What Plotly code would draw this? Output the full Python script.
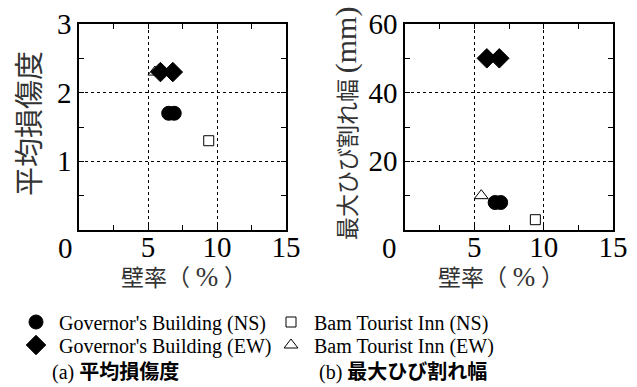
import plotly.graph_objects as go

# ---- data ----
series_names = ["Governor's Building (NS)", "Bam Tourist Inn (NS)",
                "Governor's Building (EW)", "Bam Tourist Inn (EW)"]
wall_ratio = {
    "Governor's Building (NS)": [6.5, 6.9],
    "Bam Tourist Inn (NS)": [9.4],
    "Governor's Building (EW)": [5.9, 6.8],
    "Bam Tourist Inn (EW)": [5.5],
}
avg_damage = {
    "Governor's Building (NS)": [1.7, 1.7],
    "Bam Tourist Inn (NS)": [1.3],
    "Governor's Building (EW)": [2.3, 2.3],
    "Bam Tourist Inn (EW)": [2.3],
}
max_crack = {
    "Governor's Building (NS)": [8, 8],
    "Bam Tourist Inn (NS)": [3],
    "Governor's Building (EW)": [50, 50],
    "Bam Tourist Inn (EW)": [10],
}
x_ticks = [5, 10, 15]
y1_ticks = [1, 2, 3]
y2_ticks = [20, 40, 60]
legend_rows = {"legend": ["Governor's Building (NS)", "Bam Tourist Inn (NS)"],
               "legend2": ["Governor's Building (EW)", "Bam Tourist Inn (EW)"]}

styles = {
    "Governor's Building (NS)": dict(symbol="circle", size=14, color="black",
                                     line=dict(color="black", width=1)),
    "Bam Tourist Inn (NS)": dict(symbol="square-open", size=10, color="black",
                                 line=dict(color="black", width=1)),
    "Governor's Building (EW)": dict(symbol="diamond", size=15, color="black",
                                     line=dict(color="black", width=1)),
    "Bam Tourist Inn (EW)": dict(symbol="triangle-up-open", size=12, color="black",
                                 line=dict(color="black", width=1)),
}
legend_of = {n: k for k, v in legend_rows.items() for n in v}

SERIF = "Liberation Serif, Noto Sans CJK JP"

fig = go.Figure()
for name in series_names:
    fig.add_trace(go.Scatter(x=wall_ratio[name], y=avg_damage[name], mode="markers",
                             name=name, marker=styles[name], xaxis="x", yaxis="y",
                             showlegend=True, legend=legend_of[name]))
for name in series_names:
    fig.add_trace(go.Scatter(x=wall_ratio[name], y=max_crack[name], mode="markers",
                             name=name, marker=styles[name], xaxis="x2", yaxis="y2",
                             showlegend=False))

W, H = 637, 387
def px(v): return v / W
def py(v): return 1 - v / H

axis_common = dict(
    showline=True, linecolor="black", linewidth=1.5, mirror="allticks",
    ticks="inside", ticklen=5, tickwidth=1, tickcolor="black",
    showgrid=True, gridcolor="black", griddash="dot", gridwidth=1,
    zeroline=False, automargin=False,
    tickfont=dict(family=SERIF, size=29, color="black"),
    minor=dict(ticks="inside", ticklen=5, tickcolor="black", showgrid=False),
)
xaxis_extra = dict(ticklabelstandoff=-10)

leg_common = dict(orientation="h", xanchor="left", yanchor="middle",
                  font=dict(family=SERIF, size=20, color="black"),
                  entrywidth=204, entrywidthmode="pixels",
                  itemwidth=36, bgcolor="rgba(0,0,0,0)", borderwidth=0)

fig.update_layout(
    width=W, height=H,
    margin=dict(l=0, r=0, t=0, b=0, autoexpand=False),
    paper_bgcolor="white", plot_bgcolor="white",
    xaxis=dict(domain=[px(79), px(286)], anchor="y", range=[0, 15],
               tickvals=x_ticks, minor_tickvals=[2.5, 7.5, 12.5],
               **axis_common, **xaxis_extra),
    yaxis=dict(domain=[py(230), py(24)], anchor="x", range=[0, 3],
               tickvals=y1_ticks, minor_tickvals=[0.5, 1.5, 2.5], **axis_common),
    xaxis2=dict(domain=[px(405), px(613)], anchor="y2", range=[0, 15],
                tickvals=x_ticks, minor_tickvals=[2.5, 7.5, 12.5],
                **axis_common, **xaxis_extra),
    yaxis2=dict(domain=[py(230), py(24)], anchor="x2", range=[0, 60],
                tickvals=y2_ticks, minor_tickvals=[10, 30, 50], **axis_common),
    legend=dict(x=px(13), y=py(322), **leg_common),
    legend2=dict(x=px(13), y=py(345), **leg_common),
    showlegend=True,
)

ann = []
title_col = "#333333"
def a(text, x, y, size, **kw):
    d = dict(text=text, x=px(x), y=py(y), xref="paper", yref="paper",
             xanchor="center", yanchor="middle", showarrow=False,
             font=dict(family=SERIF, size=size, color=kw.pop("color", "black")))
    d.update(kw)
    ann.append(d)

# origin "0" labels
a("0", 65, 248, 29)
a("0", 389, 248, 29)
# axis titles
xt = "壁率（ <span style='font-size:27px'>%</span> ）"
a(xt, 184, 277, 23, color=title_col)
a(xt, 501, 277, 23, color=title_col)
a("平均損傷度", 30, 124, 29, color=title_col, textangle=-90)
a("最大ひび割れ幅 <span style='font-size:30px'>(mm)</span>", 346, 124, 23,
  color=title_col, textangle=-90)
# captions
a("(a) <b>平均損傷度</b>", 50, 372, 20, xanchor="left")
a("(b) <b>最大ひび割れ幅</b>", 317, 372, 20, xanchor="left")
fig.update_layout(annotations=ann)

fig.write_html("out.html")
